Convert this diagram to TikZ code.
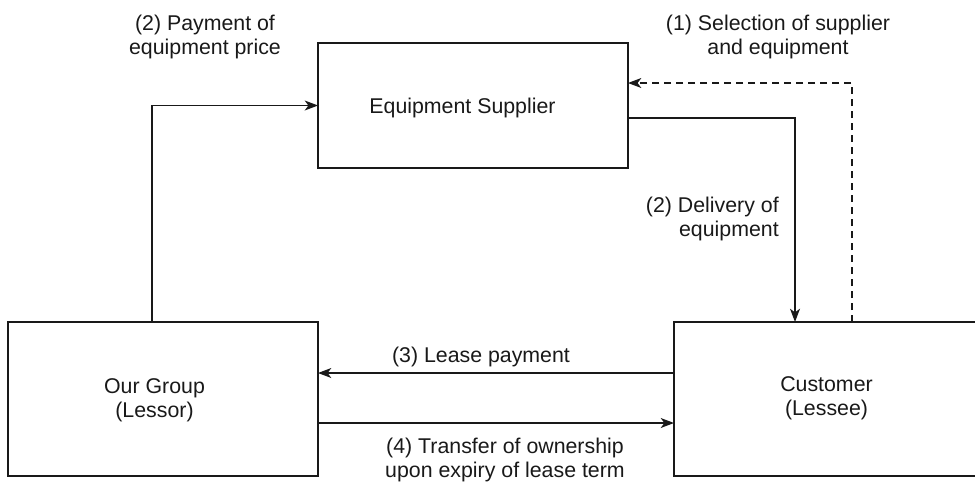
\documentclass[tikz,border=0pt]{standalone}
\usepackage{fontspec}
\setmainfont{Liberation Sans}
\usetikzlibrary{arrows.meta}
\begin{document}
\begin{tikzpicture}[x=0.75pt,y=-0.75pt,
  box/.style={draw=black!90, line width=1pt, outer sep=0pt, inner sep=0pt},
  lbl/.style={font=\fontsize{16}{18}\selectfont, text=black!90, inner sep=0pt, align=center},
  arr/.style={draw=black!90, line width=0.85pt, -{Stealth[length=10pt,width=7.5pt,inset=2.8pt]}},
  optional/.style={dash pattern=on 5pt off 4pt}
]
\useasboundingbox (0,0) rectangle (975,482);

% the three parties
\node[box, minimum width=232.5pt, minimum height=93.75pt] (sup) at (473,105.5) {};
\node[box, minimum width=232.5pt, minimum height=115.5pt] (grp) at (163,399) {};
\node[box, minimum width=228pt, minimum height=115.5pt] (cust) at (826,399) {};

\node[lbl, anchor=base] (supT) at (462.5,113) {Equipment Supplier};
\node[lbl] (grpT) at (154.5,400) {Our Group\\(Lessor)};
\node[lbl] (custT) at (826.5,398) {Customer\\(Lessee)};

% where the flows run
\coordinate (payx) at (152,0);
\coordinate (delx) at (795,0);
\coordinate (dely) at (0,118);
\coordinate (selx) at (852,0);
\coordinate (sely) at (0,83);
\coordinate (leasey) at (0,373);
\coordinate (transy) at (0,423);

% flows between the parties
\draw[arr] (grp.north -| payx) |- (sup.west);
\draw[arr] (sup.east |- dely) -| (cust.north -| delx);
\draw[arr, optional] (cust.north -| selx) |- (sup.east |- sely);
\draw[arr] (cust.west |- leasey) -- (grp.east |- leasey);
\draw[arr] (grp.east |- transy) -- (cust.west |- transy);

% flow labels
\node[lbl] (payT) at (205,36.5) {(2) Payment of\\equipment price};
\node[lbl] (selT) at (778,36.5) {(1) Selection of supplier\\and equipment};
\node[lbl, align=right, anchor=east] (delT) at (779,218.5) {(2) Delivery of\\equipment};
\node[lbl, anchor=base] (leaseT) at (481,362) {(3) Lease payment};
\node[lbl] (transT) at (505,460) {(4) Transfer of ownership\\upon expiry of lease term};
\end{tikzpicture}
\end{document}
